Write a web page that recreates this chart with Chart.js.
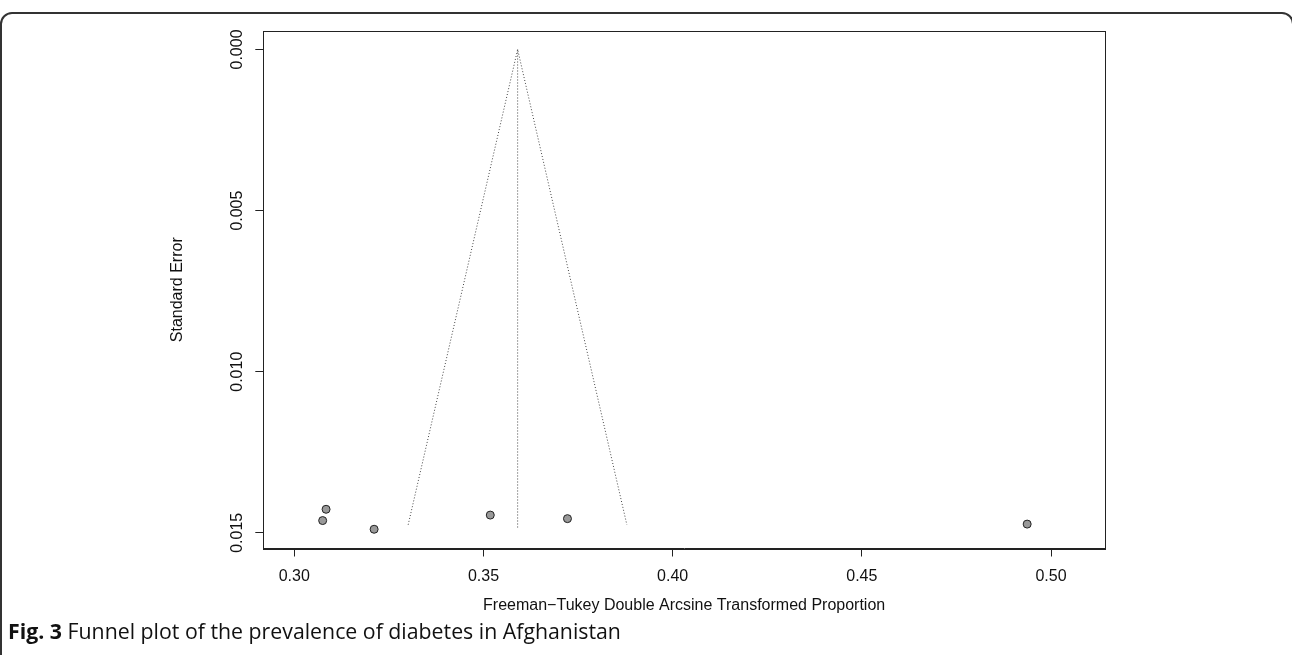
<!DOCTYPE html>
<html>
<head>
<meta charset="utf-8">
<script src="https://cdn.jsdelivr.net/npm/chart.js@4.4.1/dist/chart.umd.min.js"></script>
<style>
  html, body { margin: 0; padding: 0; background: #fff; }
  #wrap { position: relative; width: 1292px; height: 655px; overflow: hidden; background: #fff; }
  #frame { position: absolute; left: 0px; top: 12px; width: 1294px; height: 660px; border: 2px solid #333; border-radius: 12px; box-sizing: border-box; }
  #cv { position: absolute; left: 0; top: 0; }
  #caption { position: absolute; left: 8px; top: 617px; font-family: "Open Sans", "Lato", sans-serif; font-size: 21.3px; line-height: 28px; color: #111; white-space: nowrap; }
  #caption b { font-weight: 700; }
</style>
</head>
<body>
<div id="wrap">
  <div id="frame"></div>
  <canvas id="cv" width="1292" height="655"></canvas>
  <div id="caption"><b>Fig. 3</b> Funnel plot of the prevalence of diabetes in Afghanistan</div>
</div>
<script>
// ---- data ----
const studyX  = [0.3084, 0.3075, 0.3211, 0.3518, 0.3722, 0.4937];
const studySE = [0.01427, 0.01462, 0.01489, 0.01445, 0.01456, 0.01473];
const funnelX  = [0.3301, 0.35903, 0.3879];
const funnelSE = [0.01475, 0.0, 0.01475];
const centerX  = [0.35903, 0.35903];
const centerSE = [0.0, 0.01486];
const xTicks = [0.30, 0.35, 0.40, 0.45, 0.50];
const yTicks = [0.000, 0.005, 0.010, 0.015];
const xTickLabels = ['0.30', '0.35', '0.40', '0.45', '0.50'];
const yTickLabels = ['0.000', '0.005', '0.010', '0.015'];
const xTitle = 'Freeman\u2212Tukey Double Arcsine Transformed Proportion';
const yTitle = 'Standard Error';

const toPts = (xs, ys) => xs.map((x, i) => ({x: x, y: ys[i]}));

const boxPlugin = {
  id: 'box',
  afterDraw(chart) {
    const a = chart.chartArea, ctx = chart.ctx;
    ctx.save();
    ctx.strokeStyle = '#222';
    ctx.lineWidth = 1;
    ctx.strokeRect(Math.round(a.left) + 0.5, Math.round(a.top) + 0.5, Math.round(a.right - a.left), Math.round(a.bottom - a.top));
    ctx.restore();
  }
};

const font = {family: '"Liberation Sans", Arial, sans-serif', size: 16};

new Chart(document.getElementById('cv'), {
  type: 'scatter',
  data: {
    datasets: [
      {
        data: toPts(funnelX, funnelSE), showLine: true, pointRadius: 0,
        borderColor: '#444', borderWidth: 1, borderDash: [1, 2], fill: false
      },
      {
        data: toPts(centerX, centerSE), showLine: true, pointRadius: 0,
        borderColor: '#444', borderWidth: 1, borderDash: [1, 2], fill: false
      },
      {
        data: toPts(studyX, studySE), showLine: false,
        pointRadius: 4, pointBackgroundColor: '#999999', pointBorderColor: '#222', pointBorderWidth: 1
      }
    ]
  },
  options: {
    responsive: false, animation: false, devicePixelRatio: 1,
    layout: {padding: {left: 160, top: 31, right: 187, bottom: 0}},
    plugins: {legend: {display: false}, tooltip: {enabled: false}},
    scales: {
      x: {
        type: 'linear', min: 0.29181, max: 0.51427,
        afterBuildTicks: s => { s.ticks = xTicks.map(v => ({value: v})); },
        afterFit: s => { s.height = 106.5; },
        ticks: {
          font: font, color: '#111', padding: 10,
          callback: (v) => { const i = xTicks.indexOf(v); return i >= 0 ? xTickLabels[i] : ''; },
          maxRotation: 0, minRotation: 0, autoSkip: false
        },
        grid: {display: true, drawOnChartArea: false, drawTicks: true, tickLength: 8, color: '#222', lineWidth: 1},
        border: {display: true, color: '#222', width: 1},
        title: {display: true, text: xTitle, font: font, color: '#111', padding: {top: 0, bottom: 39.4}}
      },
      y: {
        type: 'linear', reverse: true, min: -0.000574, max: 0.015487,
        afterBuildTicks: s => { s.ticks = yTicks.map(v => ({value: v})); },
        afterFit: s => { s.width = 103.3; },
        ticks: {
          font: font, color: '#111', padding: -2, crossAlign: 'center',
          minRotation: 90, maxRotation: 90, autoSkip: false,
          callback: (v) => { const i = yTicks.findIndex(t => Math.abs(t - v) < 1e-9); return i >= 0 ? yTickLabels[i] : ''; }
        },
        grid: {display: true, drawOnChartArea: false, drawTicks: true, tickLength: 8, color: '#222', lineWidth: 1},
        border: {display: true, color: '#222', width: 1},
        title: {display: true, text: yTitle, font: font, color: '#111', padding: {top: 8.4, bottom: 0}}
      }
    }
  },
  plugins: [boxPlugin]
});
</script>
</body>
</html>
